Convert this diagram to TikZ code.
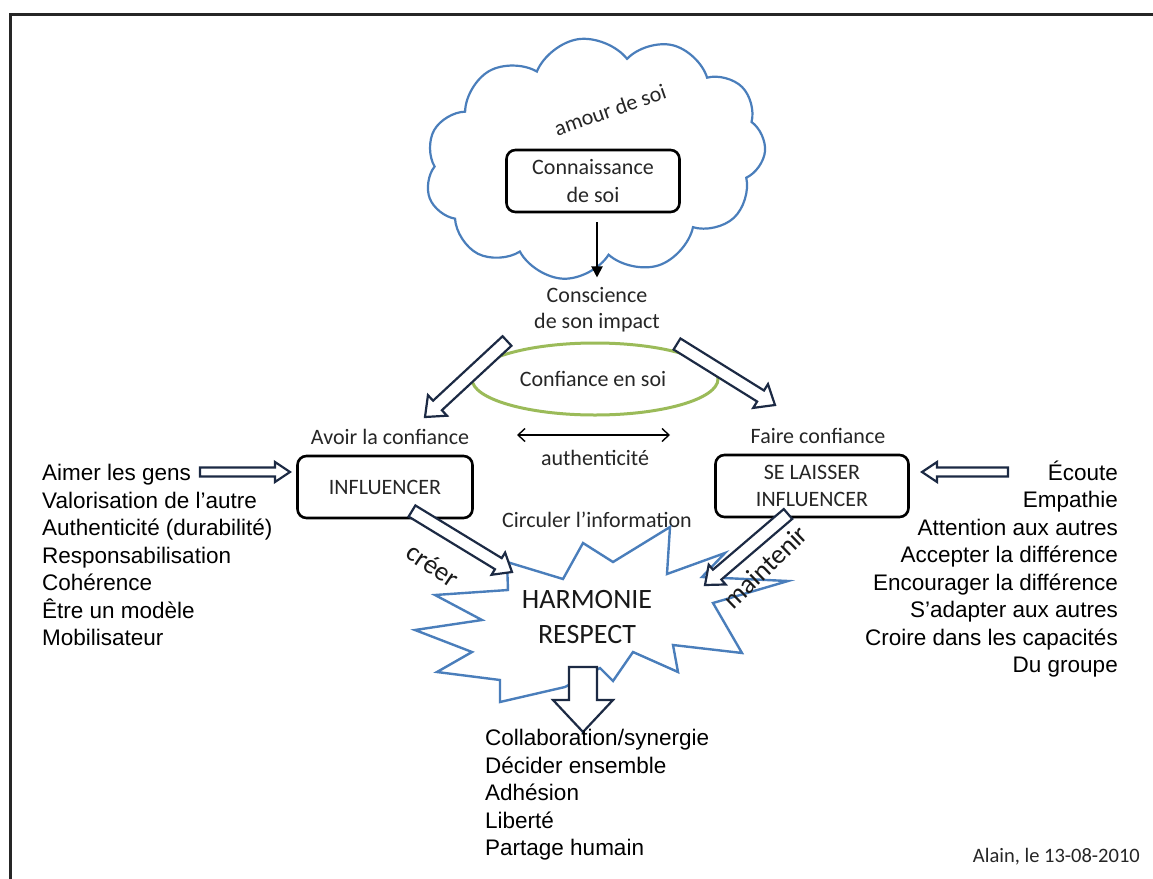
\documentclass[tikz,border=0pt]{standalone}
\usepackage{fontspec}
\setmainfont{Carlito}
\newfontfamily\arialf{Liberation Sans}
\usetikzlibrary{shapes.symbols,arrows.meta,calc}
\definecolor{cloudblue}{RGB}{74,126,187}
\definecolor{ringgreen}{RGB}{155,187,89}
\definecolor{arrownavy}{RGB}{28,42,68}
\definecolor{textgray}{RGB}{38,38,38}
\newcommand{\bkarrow}[5]{%
  \coordinate (bkC) at ($(#2)!#5!(#1)$);
  \draw[bkstyle] ($(#1)!#3!90:(#2)$) -- ($(bkC)!#3!90:(#2)$) -- ($(bkC)!#4!90:(#2)$) -- (#2) -- ($(bkC)!#4!-90:(#2)$) -- ($(bkC)!#3!-90:(#2)$) -- ($(#1)!#3!-90:(#2)$) -- cycle;}
\tikzset{
  lbl/.style={font=\fontsize{22}{26}\selectfont, text=textgray, inner sep=0pt, align=center},
  rbox/.style={draw=black, line width=2.6pt, rounded corners=9pt, minimum height=62pt, fill=white, align=center, inner sep=0pt, font=\fontsize{22}{27.5}\selectfont, text=textgray},
  lst/.style={font=\arialf\fontsize{22.5}{27.5}\selectfont, inner sep=0pt, text=black},
  bkstyle/.style={draw=arrownavy, line width=2.2pt, fill=white, line join=miter},
  thinarr/.style={draw=black, line width=2pt, -{Triangle[length=11pt,width=11pt]}},
  dblarr/.style={draw=black, line width=1.4pt, {Straight Barb[length=7pt,width=13pt]}-{Straight Barb[length=7pt,width=13pt]}},
}
\begin{document}
\begin{tikzpicture}[x=1pt,y=-1pt]
\useasboundingbox (0,0) rectangle (1153,878);
\fill[white] (0,0) rectangle (1153,878);
% frame
\draw[line width=3pt, black!85] (10,900) -- (10,14) -- (1170,14);

% cloud
\node[cloud, draw=cloudblue, line width=2.2pt, cloud puffs=11, cloud puff arc=120, aspect=1.5,
      minimum width=342pt, minimum height=240pt, rotate=8, inner sep=0pt] (cloud) at (595,158) {};
\node[lbl, rotate=19] (amour) at (610,110) {amour de soi};
\node[rbox, minimum width=173pt] (conn) at (593,181) {Connaissance\\de soi};
\node[lbl] (consc) at (597,310) {Conscience\\de son impact};
\draw[thinarr, shorten <=9pt, shorten >=10pt] (conn.south -| consc.north) -- (consc.north);

% confidence ellipse
\draw[ringgreen, line width=3pt] (595,379) ellipse [x radius=123, y radius=36];
\node[lbl] (conf) at (593,379) {Confiance en soi};

% diagonal block arrows
\coordinate (la1) at (507,341); \coordinate (la2) at (425,417);
\coordinate (ra1) at (677,344); \coordinate (ra2) at (775,405);
\bkarrow{la1}{la2}{6.5pt}{14pt}{17pt}
\bkarrow{ra1}{ra2}{6.5pt}{14pt}{17pt}

\node[lbl] (avoir) at (390,437) {Avoir la confiance};
\node[lbl] (faire) at (818,436) {Faire confiance};
\coordinate (dl) at (517,435); \coordinate (dr) at (670,435);
\draw[dblarr] (dl) -- (dr);
\node[lbl] (auth) at (595,458) {authenticit\'e};

% boxes
\node[rbox, minimum width=175pt] (infl) at (385,487) {INFLUENCER};
\node[rbox, minimum width=193pt] (slinf) at (812,486) {SE LAISSER\\INFLUENCER};

% horizontal block arrows
\coordinate (ha1) at (200,472); \coordinate (ha2) at (290,472);
\coordinate (hb1) at (1008,472); \coordinate (hb2) at (922,472);
\bkarrow{ha1}{ha2}{4.5pt}{10pt}{15pt}
\bkarrow{hb1}{hb2}{4.5pt}{10pt}{15pt}

% lists
\node[lst, align=left, anchor=west] (leftlist) at (42,555) {Aimer les gens\\Valorisation de l’autre\\Authenticit\'e (durabilit\'e)\\Responsabilisation\\Coh\'erence\\\^Etre un mod\`ele\\Mobilisateur};
\node[lst, align=right, anchor=east] (rightlist) at (1118,569) {\'Ecoute\\Empathie\\Attention aux autres\\Accepter la diff\'erence\\Encourager la diff\'erence\\S’adapter aux autres\\Croire dans les capacit\'es\\Du groupe};

\node[lbl] (circ) at (597,520) {Circuler l’information};

% starburst
\draw[cloudblue, line width=2.4pt, line join=miter, fill=white]
  (507,562) -- (563,579) -- (583,543) -- (613,562) -- (670,527) -- (667,574) -- (725,553) -- (702,577)
  -- (788,581) -- (713,603) -- (742,653) -- (673,645) -- (678,672) -- (633,652) -- (613,681) -- (600,668)
  -- (565,687) -- (500,702) -- (500,680) -- (437,672) -- (472,652) -- (415,630) -- (482,620) -- (435,595)
  -- (508,590) -- cycle;
\node[font=\fontsize{28}{35}\selectfont, text=black!90, align=center, inner sep=0pt] (harm) at (587,617) {HARMONIE\\RESPECT};

% creer / maintenir arrows
\coordinate (cr1) at (412,511); \coordinate (cr2) at (512,572);
\coordinate (mt1) at (788,514); \coordinate (mt2) at (705,585);
\bkarrow{cr1}{cr2}{6.5pt}{13pt}{16pt}
\bkarrow{mt1}{mt2}{6.5pt}{13pt}{16pt}
\node[font=\fontsize{27}{30}\selectfont, text=black!90, rotate=-34, inner sep=0pt] (creer) at (433,565) {cr\'eer};
\node[font=\fontsize{27}{30}\selectfont, text=black!90, rotate=44, inner sep=0pt] (maint) at (765,567) {maintenir};

% bottom arrow
\coordinate (bt1) at (583,667); \coordinate (bt2) at (583,732);
\bkarrow{bt1}{bt2}{14pt}{30pt}{32pt}

\node[lst, align=left, anchor=west] (botlist) at (485,795) {Collaboration/synergie\\D\'ecider ensemble\\Adh\'esion\\Libert\'e\\Partage humain};

\node[font=\fontsize{20.5}{24}\selectfont, text=textgray, anchor=east, inner sep=0pt] (sign) at (1140,857) {Alain, le 13-08-2010};
\end{tikzpicture}
\end{document}
